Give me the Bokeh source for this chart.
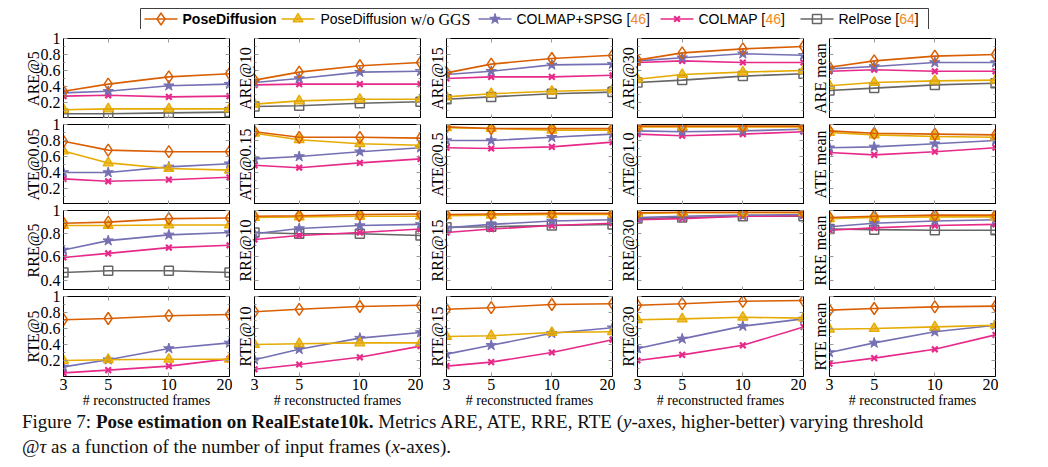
from bokeh.plotting import figure
from bokeh.models import Range1d, FixedTicker, LinearAxis, LogAxis, CustomJSTickFormatter, Div
from bokeh.layouts import column, row
from bokeh.embed import file_html
from bokeh.resources import INLINE
from bokeh.core.properties import value

# ---------------- data ----------------
frames = [3, 5, 10, 20]
x_title = "# reconstructed frames"

are_labels = ["ARE@5", "ARE@10", "ARE@15", "ARE@30", "ARE mean"]
ate_labels = ["ATE@0.05", "ATE@0.15", "ATE@0.5", "ATE@1.0", "ATE mean"]
rre_labels = ["RRE@5", "RRE@10", "RRE@15", "RRE@30", "RRE mean"]
rte_labels = ["RTE@5", "RTE@10", "RTE@15", "RTE@30", "RTE mean"]

y_ticks_main = [0.2, 0.4, 0.6, 0.8, 1.0]
y_minor_main = [0.1, 0.3, 0.5, 0.7, 0.9]
y_ticks_rre = [0.4, 0.6, 0.8, 1.0]
y_minor_rre = [0.5, 0.7, 0.9]

# PoseDiffusion
pd_are = [[0.34, 0.43, 0.52, 0.56], [0.48, 0.58, 0.66, 0.70], [0.57, 0.68, 0.75, 0.79],
          [0.73, 0.82, 0.87, 0.90], [0.64, 0.72, 0.78, 0.80]]
pd_ate = [[0.79, 0.68, 0.66, 0.66], [0.91, 0.84, 0.84, 0.83], [0.97, 0.95, 0.95, 0.95],
          [0.98, 0.98, 0.98, 0.98], [0.92, 0.89, 0.88, 0.87]]
pd_rre = [[0.89, 0.90, 0.93, 0.935], [0.95, 0.955, 0.965, 0.97], [0.965, 0.97, 0.975, 0.975],
          [0.98, 0.985, 0.985, 0.985], [0.94, 0.95, 0.96, 0.96]]
pd_rte = [[0.71, 0.725, 0.76, 0.775], [0.81, 0.84, 0.875, 0.89], [0.84, 0.86, 0.90, 0.91],
          [0.89, 0.91, 0.94, 0.95], [0.83, 0.85, 0.87, 0.88]]

# PoseDiffusion w/o GGS
nogg_are = [[0.11, 0.12, 0.12, 0.12], [0.18, 0.22, 0.24, 0.24], [0.27, 0.31, 0.34, 0.36],
            [0.49, 0.55, 0.58, 0.60], [0.41, 0.45, 0.47, 0.48]]
nogg_ate = [[0.67, 0.52, 0.45, 0.43], [0.89, 0.81, 0.76, 0.74], [0.96, 0.95, 0.93, 0.93],
            [0.97, 0.97, 0.97, 0.97], [0.90, 0.87, 0.85, 0.84]]
nogg_rre = [[0.87, 0.87, 0.875, 0.875], [0.94, 0.945, 0.95, 0.95], [0.955, 0.96, 0.965, 0.965],
            [0.975, 0.98, 0.98, 0.98], [0.93, 0.94, 0.945, 0.945]]
nogg_rte = [[0.20, 0.21, 0.215, 0.215], [0.40, 0.41, 0.42, 0.42], [0.50, 0.51, 0.55, 0.56],
            [0.71, 0.72, 0.74, 0.73], [0.59, 0.60, 0.62, 0.64]]

# COLMAP+SPSG
spsg_are = [[0.32, 0.34, 0.41, 0.43], [0.45, 0.50, 0.58, 0.59], [0.55, 0.59, 0.67, 0.68],
            [0.72, 0.76, 0.81, 0.79], [0.62, 0.65, 0.70, 0.70]]
spsg_ate = [[0.40, 0.40, 0.47, 0.51], [0.57, 0.60, 0.66, 0.71], [0.80, 0.80, 0.84, 0.88],
            [0.92, 0.91, 0.92, 0.94], [0.71, 0.72, 0.76, 0.80]]
spsg_rre = [[0.66, 0.74, 0.79, 0.81], [0.80, 0.845, 0.87, 0.88], [0.85, 0.88, 0.91, 0.92],
            [0.94, 0.95, 0.96, 0.965], [0.86, 0.89, 0.91, 0.92]]
spsg_rte = [[0.12, 0.21, 0.35, 0.42], [0.21, 0.34, 0.48, 0.55], [0.28, 0.39, 0.54, 0.61],
            [0.35, 0.47, 0.63, 0.72], [0.30, 0.42, 0.56, 0.64]]

# COLMAP
colmap_are = [[0.28, 0.29, 0.27, 0.28], [0.42, 0.43, 0.43, 0.43], [0.50, 0.52, 0.52, 0.54],
              [0.70, 0.72, 0.70, 0.70], [0.59, 0.61, 0.59, 0.59]]
colmap_ate = [[0.32, 0.29, 0.31, 0.34], [0.49, 0.46, 0.52, 0.57], [0.71, 0.70, 0.72, 0.78],
              [0.88, 0.86, 0.88, 0.91], [0.65, 0.62, 0.66, 0.71]]
colmap_rre = [[0.595, 0.63, 0.68, 0.70], [0.75, 0.785, 0.81, 0.84], [0.81, 0.84, 0.87, 0.89],
              [0.92, 0.93, 0.95, 0.955], [0.83, 0.85, 0.87, 0.88]]
colmap_rte = [[0.045, 0.08, 0.13, 0.22], [0.09, 0.15, 0.24, 0.38], [0.13, 0.18, 0.30, 0.46],
              [0.20, 0.27, 0.39, 0.62], [0.16, 0.23, 0.34, 0.52]]

# RelPose (rotation only)
relpose_are = [[0.06, 0.06, 0.07, 0.08], [0.15, 0.16, 0.19, 0.21], [0.24, 0.27, 0.31, 0.33],
               [0.45, 0.48, 0.53, 0.56], [0.35, 0.38, 0.42, 0.44]]
relpose_rre = [[0.465, 0.48, 0.48, 0.465], [0.81, 0.80, 0.80, 0.785], [0.855, 0.86, 0.87, 0.88],
               [0.93, 0.94, 0.95, 0.95], [0.84, 0.835, 0.83, 0.83]]

# ---------------- styles ----------------
C_PD, C_NOGG, C_SPSG, C_COLMAP, C_REL = "#d95f02", "#e6ab02", "#7570b3", "#e7298a", "#666666"
CITE = "#f08a24"
TICK = "#9a9a9a"
SERIF = "'Liberation Serif', serif"
SANS = "'Liberation Sans', sans-serif"

series = [
    ("RelPose", C_REL, "square", 9, None, 0.0, 1.5, [relpose_are, None, relpose_rre, None]),
    ("COLMAP", C_COLMAP, "x", 8, C_COLMAP, 1.0, 2.2, [colmap_are, colmap_ate, colmap_rre, colmap_rte]),
    ("COLMAP+SPSG", C_SPSG, "star", 11, C_SPSG, 1.0, 1.0, [spsg_are, spsg_ate, spsg_rre, spsg_rte]),
    ("PoseDiffusion w/o GGS", C_NOGG, "triangle", 10, C_NOGG, 0.75, 1.3, [nogg_are, nogg_ate, nogg_rre, nogg_rte]),
    ("PoseDiffusion", C_PD, "diamond", 12, None, 0.0, 1.5, [pd_are, pd_ate, pd_rre, pd_rte]),
]

row_labels = [are_labels, ate_labels, rre_labels, rte_labels]
row_ranges = [(0.0, 1.0), (0.0, 1.0), (0.31, 1.0), (0.0, 1.0)]
row_ticks = [(y_ticks_main, y_minor_main), (y_ticks_main, y_minor_main),
             (y_ticks_rre, y_minor_rre), (y_ticks_main, y_minor_main)]

col_left = [63, 22, 23, 22, 23]
frame_w = 166
frame_h = 80
row_top = 9
row_overlap = 3
row_bottom = [0, 0, 0, 38]

SHOW_Y = "return (Math.abs(tick - 1) < 1e-9) ? '1' : tick.toFixed(1);"
SHOW_X = "return tick.toFixed(0);"
HIDE = "return '';"


def style_axis(ax, code, show):
    ax.major_tick_in = 4
    ax.major_tick_out = 0
    ax.minor_tick_in = 2
    ax.minor_tick_out = 0
    ax.major_tick_line_color = TICK
    ax.minor_tick_line_color = TICK
    ax.axis_line_color = "black"
    ax.major_label_text_font = SERIF
    ax.major_label_text_font_size = "16px"
    ax.major_label_text_color = "black"
    ax.axis_label_text_font = SERIF
    ax.axis_label_text_font_style = "normal"
    ax.axis_label_text_color = "black"
    ax.formatter = CustomJSTickFormatter(code=code)
    ax.major_label_standoff = 3 if show else 0
    ax.axis_label_standoff = 1


def make_panel(r, c):
    p = figure(width=col_left[c] + frame_w + 3, height=row_top + frame_h + row_bottom[r],
               x_axis_type="log", x_range=Range1d(3, 20), y_range=Range1d(*row_ranges[r]),
               output_backend="svg", toolbar_location=None,
               min_border_left=col_left[c], min_border_right=3,
               min_border_top=row_top, min_border_bottom=row_bottom[r])
    p.grid.visible = False
    p.outline_line_color = "black"
    p.outline_line_alpha = 1.0
    p.background_fill_color = "white"
    p.border_fill_color = None

    ticks, minor = row_ticks[r]
    xa = p.xaxis[0]
    xa.ticker = FixedTicker(ticks=frames)
    style_axis(xa, SHOW_X if r == 3 else HIDE, r == 3)
    if r == 3:
        xa.axis_label = x_title
        xa.axis_label_text_font_size = "14px"
        xa.major_label_standoff = 2
        xa.axis_label_standoff = 0
    xt = LogAxis(ticker=FixedTicker(ticks=frames))
    style_axis(xt, HIDE, False)
    p.add_layout(xt, "above")
    ya = p.yaxis[0]
    ya.ticker = FixedTicker(ticks=ticks, minor_ticks=minor)
    style_axis(ya, SHOW_Y if c == 0 else HIDE, c == 0)
    ya.axis_label = row_labels[r][c]
    ya.axis_label_text_font_size = "16px"
    ya.axis_label_standoff = -4 if c == 0 else 1
    yr = LinearAxis(ticker=FixedTicker(ticks=ticks, minor_ticks=minor))
    style_axis(yr, HIDE, False)
    p.add_layout(yr, "right")

    for name, color, marker, size, fill, falpha, mlw, data in series:
        d = data[r]
        if d is None:
            continue
        ys = d[c]
        p.line(frames, ys, line_color=color, line_width=1.6)
        p.scatter(frames, ys, marker=marker, size=size, line_color=color,
                  fill_color=fill, fill_alpha=falpha, line_width=mlw)
    return p


panel_rows = []
for r in range(4):
    figs = [make_panel(r, c) for c in range(5)]
    if r == 0:
        panel_rows.append(row(*figs))
    else:
        panel_rows.append(row(*figs, margin=(-row_overlap, 0, 0, 0)))

# ---------------- legend ----------------
leg = figure(width=1048, height=29, x_range=Range1d(0, 1048), y_range=Range1d(29, 0),
             output_backend="svg", toolbar_location=None, min_border=0,
             x_axis_location=None, y_axis_location=None)
leg.grid.visible = False
leg.outline_line_color = None
leg.background_fill_color = "white"
leg.border_fill_color = "white"
leg.quad(left=[140], right=[928], top=[8], bottom=[29], fill_color="white",
         line_color="#404040", line_width=1)

legend_order = ["PoseDiffusion", "PoseDiffusion w/o GGS", "COLMAP+SPSG", "COLMAP", "RelPose"]
legend_line_x = [144, 281, 478, 660, 800]
style_of = {s[0]: s for s in series}
LY = 18.5
for name, x0 in zip(legend_order, legend_line_x):
    _, color, marker, size, fill, falpha, mlw, _ = style_of[name]
    leg.line([x0, x0 + 33], [LY, LY], line_color=color, line_width=1.6)
    leg.scatter([x0 + 16.5], [LY], marker=marker, size=size, line_color=color,
                fill_color=fill, fill_alpha=falpha, line_width=mlw)

legend_texts = [
    (182, "PoseDiffusion", SANS, "bold", "black", "14px"),
    (320, "PoseDiffusion", SANS, "normal", "black", "14px"),
    (410, "w/o GGS", SERIF, "normal", "black", "16px"),
    (516, "COLMAP+SPSG [", SANS, "normal", "black", "14px"),
    (630, "46", SANS, "normal", CITE, "14px"),
    (645.6, "]", SANS, "normal", "black", "14px"),
    (698, "COLMAP [", SANS, "normal", "black", "14px"),
    (765, "46", SANS, "normal", CITE, "14px"),
    (780.6, "]", SANS, "normal", "black", "14px"),
    (838, "RelPose [", SANS, "normal", "black", "14px"),
    (898.7, "64", SANS, "normal", CITE, "14px"),
    (914.3, "]", SANS, "normal", "black", "14px"),
]
for x, t, font, style, color, fsize in legend_texts:
    leg.text(x=[x], y=[LY], text=[t], text_font=value(font), text_font_style=style,
             text_color=color, text_font_size=fsize, text_align="left", text_baseline="middle")

# ---------------- caption ----------------
caption = Div(
    text=('<div style="font-family:\'Liberation Serif\',serif;font-size:19px;line-height:25px;'
          'white-space:nowrap;padding-left:17px;margin-top:-10px;color:#111;">'
          'Figure 7: <b>Pose estimation on RealEstate10k.</b> Metrics ARE, ATE, RRE, RTE '
          '(<i>y</i>-axes, higher-better) varying threshold<br>'
          '@<i>&tau;</i> as a function of the number of input frames (<i>x</i>-axes).</div>'),
    width=1048, height=51)

layout = column(leg, *panel_rows, caption)
open("out.html", "w").write(file_html(layout, INLINE))
